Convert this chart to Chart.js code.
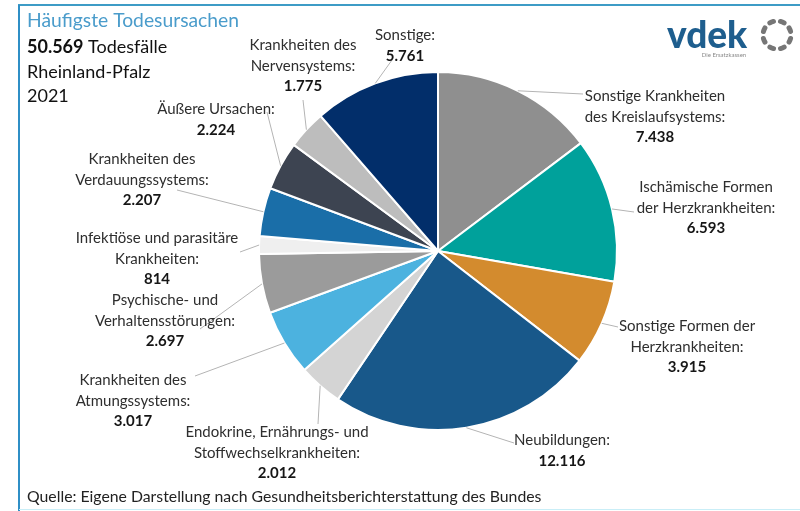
<!DOCTYPE html>
<html><head><meta charset="utf-8">
<script src="https://cdn.jsdelivr.net/npm/chart.js@4"></script>
<style>html,body{margin:0;padding:0;background:#fff;}canvas{display:block;}</style>
</head><body>
<canvas id="c" width="800" height="511"></canvas>
<script>
// ---- data ----
const categories = [
  "Sonstige Krankheiten des Kreislaufsystems",
  "Ischämische Formen der Herzkrankheiten",
  "Sonstige Formen der Herzkrankheiten",
  "Neubildungen",
  "Endokrine, Ernährungs- und Stoffwechselkrankheiten",
  "Krankheiten des Atmungssystems",
  "Psychische- und Verhaltensstörungen",
  "Infektiöse und parasitäre Krankheiten",
  "Krankheiten des Verdauungssystems",
  "Äußere Ursachen",
  "Krankheiten des Nervensystems",
  "Sonstige"
];
const deaths = [7438, 6593, 3915, 12116, 2012, 3017, 2697, 814, 2207, 2224, 1775, 5761];
const labelLines = [
  ["Sonstige Krankheiten", "des Kreislaufsystems:"],
  ["Ischämische Formen", "der Herzkrankheiten:"],
  ["Sonstige Formen der", "Herzkrankheiten:"],
  ["Neubildungen:"],
  ["Endokrine, Ernährungs- und", "Stoffwechselkrankheiten:"],
  ["Krankheiten des", "Atmungssystems:"],
  ["Psychische- und", "Verhaltensstörungen:"],
  ["Infektiöse und parasitäre", "Krankheiten:"],
  ["Krankheiten des", "Verdauungssystems:"],
  ["Äußere Ursachen:"],
  ["Krankheiten des", "Nervensystems:"],
  ["Sonstige:"]
];
const titleText = "Häufigste Todesursachen";
const totalText = "50.569";
const subtitleLines = [" Todesfälle", "Rheinland-Pfalz", "2021"];
const sourceText = "Quelle: Eigene Darstellung nach Gesundheitsberichterstattung des Bundes";

// ---- styles / layout ----
const colors = ["#8f8f8f","#00a19b","#d38b2e","#18588a","#d4d4d4","#4cb2df","#9b9b9b","#efefef","#1a6ea8","#3d4451","#bdbdbd","#022e6a"];
const labelPos = [ // center x, first line center y
  [655,96],[706,187],[687,326],[562,440],[277,432],[133,380],[165,300],[157,238],[142,159],[216,109],[303,45],[405,35]
];
const leaderEnd = [
  [583,94],[634,212],[618,327],[514,443],[318,424],[195,376],[200,329],[240,252],[177,190],[267,112],[303,100],[392,60]
];
const fmt = v => String(v).replace(/\B(?=(\d{3})+(?!\d))/g, ".");
const FONT = "Lato, 'Open Sans', sans-serif";

const overlay = {
  id: "overlay",
  afterDraw(chart) {
    const ctx = chart.ctx;
    const meta = chart.getDatasetMeta(0);
    ctx.save();
    // frame
    ctx.strokeStyle = "#3d9cc6"; ctx.lineWidth = 2;
    ctx.beginPath(); ctx.moveTo(18, 5); ctx.lineTo(800, 5); ctx.stroke();
    ctx.strokeStyle = "#2f8fc6";
    ctx.beginPath(); ctx.moveTo(19, 5); ctx.lineTo(19, 511); ctx.stroke();
    ctx.strokeStyle = "#c9eef7"; ctx.lineWidth = 1;
    ctx.beginPath(); ctx.moveTo(19, 509.5); ctx.lineTo(800, 509.5); ctx.stroke();

    // leader lines
    ctx.strokeStyle = "#b4b4b4"; ctx.lineWidth = 1;
    meta.data.forEach((arc, i) => {
      const p = arc.getProps(["x","y","startAngle","endAngle","outerRadius"], true);
      const a = (p.startAngle + p.endAngle) / 2;
      const r = p.outerRadius;
      const sx = p.x + Math.cos(a) * r, sy = p.y + Math.sin(a) * r;
      ctx.beginPath(); ctx.moveTo(sx, sy); ctx.lineTo(leaderEnd[i][0], leaderEnd[i][1]); ctx.stroke();
    });

    // labels
    ctx.textAlign = "center"; ctx.textBaseline = "middle";
    labelLines.forEach((lines, i) => {
      const [cx, cy] = labelPos[i];
      let y = cy;
      ctx.fillStyle = "#2e2e2e"; ctx.font = "15px " + FONT;
      lines.forEach(l => { ctx.fillText(l, cx, y); y += 20.7; });
      ctx.fillStyle = "#161616"; ctx.font = "bold 15px " + FONT;
      ctx.fillText(fmt(chart.data.datasets[0].data[i]), cx, y);
    });

    // title block
    ctx.textAlign = "left"; ctx.textBaseline = "alphabetic";
    ctx.fillStyle = "#4a9ccb"; ctx.font = "19.3px " + FONT;
    ctx.fillText(titleText, 27, 27);
    ctx.fillStyle = "#111"; ctx.font = "bold 18px " + FONT;
    ctx.fillText(totalText, 27, 53);
    const w = ctx.measureText(totalText).width;
    ctx.font = "18px " + FONT;
    ctx.fillText(subtitleLines[0], 27 + w, 53);
    ctx.fillText(subtitleLines[1], 27, 78);
    ctx.fillText(subtitleLines[2], 27, 102);

    // source
    ctx.fillStyle = "#222"; ctx.font = "15.8px " + FONT;
    ctx.fillText(sourceText, 27, 502);

    // logo
    ctx.fillStyle = "#1e5e8e"; ctx.font = "900 37px " + FONT;
    ctx.fillText("vdek", 667, 48);
    ctx.fillStyle = "#8a8a8a"; ctx.font = "6px " + FONT;
    ctx.textAlign = "center";
    ctx.fillText("Die Ersatzkassen", 724, 57);
    ctx.strokeStyle = "#767676"; ctx.lineWidth = 5; ctx.lineCap = "round";
    const lx = 777, ly = 35, lr = 14;
    for (let k = 0; k < 8; k++) {
      const a0 = k * Math.PI / 4 + 0.25, a1 = a0 + 0.28;
      ctx.beginPath(); ctx.arc(lx, ly, lr, a0, a1); ctx.stroke();
    }
    ctx.restore();
  }
};

new Chart(document.getElementById("c"), {
  type: "pie",
  data: {
    labels: categories,
    datasets: [{ data: deaths, backgroundColor: colors, borderColor: "#ffffff", borderWidth: 2 }]
  },
  options: {
    responsive: false,
    animation: false,
    layout: { padding: { left: 258, right: 182, top: 71, bottom: 80 } },
    plugins: { legend: { display: false }, tooltip: { enabled: false }, title: { display: false } }
  },
  plugins: [overlay]
});
</script>
</body></html>
